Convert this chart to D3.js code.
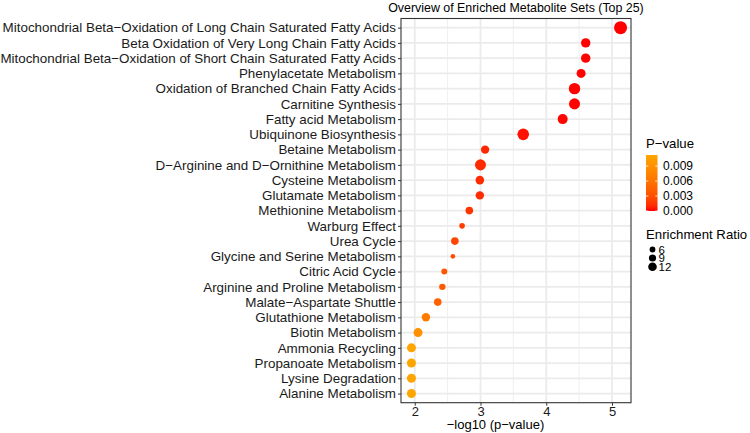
<!DOCTYPE html>
<meta charset="utf-8">
<style>
body {
  margin: 0;
  background: #fff;
}
svg {
  font-family: "Liberation Sans", Arial, sans-serif;
}
.grid line {
  stroke: #ebebeb;
}
.axis text {
  fill: #1a1a1a;
  font-size: 13.4px;
}
.axis line, .axis path {
  stroke: #333;
}
</style>
<svg width="750" height="433"></svg>
<script src="https://cdn.jsdelivr.net/npm/d3@7"></script>
<script>

// metabolite sets, top to bottom
var sets = [
  "Mitochondrial Beta\u2212Oxidation of Long Chain Saturated Fatty Acids",
  "Beta Oxidation of Very Long Chain Fatty Acids",
  "Mitochondrial Beta\u2212Oxidation of Short Chain Saturated Fatty Acids",
  "Phenylacetate Metabolism",
  "Oxidation of Branched Chain Fatty Acids",
  "Carnitine Synthesis",
  "Fatty acid Metabolism",
  "Ubiquinone Biosynthesis",
  "Betaine Metabolism",
  "D\u2212Arginine and D\u2212Ornithine Metabolism",
  "Cysteine Metabolism",
  "Glutamate Metabolism",
  "Methionine Metabolism",
  "Warburg Effect",
  "Urea Cycle",
  "Glycine and Serine Metabolism",
  "Citric Acid Cycle",
  "Arginine and Proline Metabolism",
  "Malate\u2212Aspartate Shuttle",
  "Glutathione Metabolism",
  "Biotin Metabolism",
  "Ammonia Recycling",
  "Propanoate Metabolism",
  "Lysine Degradation",
  "Alanine Metabolism"
];

// -log10(p)
var logP = [5.13, 4.60, 4.60, 4.53, 4.43, 4.43, 4.25, 3.65, 3.07, 3.00,
            2.99, 2.99, 2.83, 2.72, 2.61, 2.58, 2.45, 2.42, 2.35, 2.17,
            2.05, 1.95, 1.95, 1.95, 1.95];

var ratio = [21.5, 13.7, 13.7, 12.9, 18.0, 17.2, 15.0, 18.5, 11.6, 17.2,
             12.0, 11.6, 9.9, 5.6, 9.9, 3.4, 6.4, 7.3, 9.9, 11.6,
             12.9, 12.9, 12.9, 12.9, 12.9];

var xTicks = [2, 3, 4, 5];
var xMinor = [2.5, 3.5, 4.5];
var pTicks = [0, 0.003, 0.006, 0.009];
var sizeTicks = [6, 9, 12];

var pval = logP.map(v => Math.pow(10, -v));

var svg = d3.select("svg"),
    panel = { left: 401, right: 631, top: 18.5, bottom: 402.7 };

var xExt = d3.extent(logP), xPad = (xExt[1] - xExt[0]) * 0.05;
var x = d3.scaleLinear()
  .domain([xExt[0] - xPad, xExt[1] + xPad])
  .range([panel.left, panel.right]);

var y = d3.scalePoint()
  .domain(sets)
  .range([panel.top, panel.bottom])
  .padding(0.6);

var color = d3.scaleLinear()
  .domain(d3.extent(pval))
  .range(["#ff0000", "#ffa500"])
  .interpolate(d3.interpolateLab);

var r = d3.scaleLinear()
  .domain([6, 12])
  .range([2.9, 4.3]);

// grid
var grid = svg.append("g").attr("class", "grid");
grid.selectAll(".minor").data(xMinor).join("line")
  .attr("x1", d => x(d)).attr("x2", d => x(d))
  .attr("y1", panel.top).attr("y2", panel.bottom)
  .attr("stroke-width", 0.8);
grid.selectAll(".majx").data(xTicks).join("line")
  .attr("x1", d => x(d)).attr("x2", d => x(d))
  .attr("y1", panel.top).attr("y2", panel.bottom)
  .attr("stroke-width", 1.8);
grid.selectAll(".majy").data(sets).join("line")
  .attr("x1", panel.left).attr("x2", panel.right)
  .attr("y1", d => y(d)).attr("y2", d => y(d))
  .attr("stroke-width", 1.8);

// points
svg.append("g").selectAll("circle").data(sets).join("circle")
  .attr("cx", (d, i) => x(logP[i]))
  .attr("cy", d => y(d))
  .attr("r", (d, i) => r(ratio[i]))
  .attr("fill", (d, i) => color(pval[i]));

// panel border
svg.append("rect")
  .attr("x", panel.left).attr("y", panel.top)
  .attr("width", panel.right - panel.left)
  .attr("height", panel.bottom - panel.top)
  .attr("fill", "none").attr("stroke", "#333").attr("stroke-width", 1.1);

// axes
var yAxis = svg.append("g").attr("class", "axis")
  .attr("transform", `translate(${panel.left},0)`)
  .call(d3.axisLeft(y).tickSize(3).tickPadding(2));
yAxis.select(".domain").remove();

var xAxis = svg.append("g").attr("class", "axis")
  .attr("transform", `translate(0,${panel.bottom})`)
  .call(d3.axisBottom(x).tickValues(xTicks).tickSize(3).tickPadding(1.5).tickFormat(d3.format("d")));
xAxis.select(".domain").remove();
xAxis.selectAll("text").style("font-size", "13px");

svg.append("text")
  .attr("x", 495.5)
  .attr("y", 428.8)
  .attr("text-anchor", "middle")
  .style("font-size", "13px")
  .text("\u2212log10 (p\u2212value)");

svg.append("text")
  .attr("x", (panel.left + panel.right) / 2)
  .attr("y", 11.5)
  .attr("text-anchor", "middle")
  .style("font-size", "12.4px")
  .text("Overview of Enriched Metabolite Sets (Top 25)");

// colour legend
var leg = svg.append("g").attr("transform", "translate(646,0)");
leg.append("text").attr("x", 0).attr("y", 148)
  .style("font-size", "13.2px").text("P\u2212value");

var barTop = 155, barBot = 211, barW = 11.5;
var pScale = d3.scaleLinear().domain(d3.extent(pval)).range([barBot, barTop]);
var grad = svg.append("defs").append("linearGradient")
  .attr("id", "pgrad").attr("x1", 0).attr("y1", 1).attr("x2", 0).attr("y2", 0);
d3.range(0, 1.01, 0.1).forEach(t => {
  grad.append("stop").attr("offset", t)
    .attr("stop-color", color(pScale.invert(barBot - t * (barBot - barTop))));
});
leg.append("rect").attr("x", 0).attr("y", barTop)
  .attr("width", barW).attr("height", barBot - barTop)
  .attr("fill", "url(#pgrad)");
pTicks.forEach(p => {
  var yy = pScale(p);
  leg.append("line").attr("x1", 0).attr("x2", 2.3).attr("y1", yy).attr("y2", yy)
    .attr("stroke", "#fff").attr("stroke-width", 0.8);
  leg.append("line").attr("x1", barW - 2.3).attr("x2", barW).attr("y1", yy).attr("y2", yy)
    .attr("stroke", "#fff").attr("stroke-width", 0.8);
  leg.append("text").attr("x", barW + 5.5).attr("y", yy).attr("dy", "0.36em")
    .style("font-size", "12px").text(d3.format(".3f")(p));
});

// size legend
leg.append("text").attr("x", 0).attr("y", 239)
  .style("font-size", "13.2px").text("Enrichment Ratio");
var sizeY = [249.5, 258, 266.8];
sizeTicks.forEach((s, i) => {
  leg.append("circle").attr("cx", 6.5).attr("cy", sizeY[i]).attr("r", r(s)).attr("fill", "#000");
  leg.append("text").attr("x", 12.5).attr("y", sizeY[i]).attr("dy", "0.36em")
    .style("font-size", "11.5px").text(s);
});
</script>
